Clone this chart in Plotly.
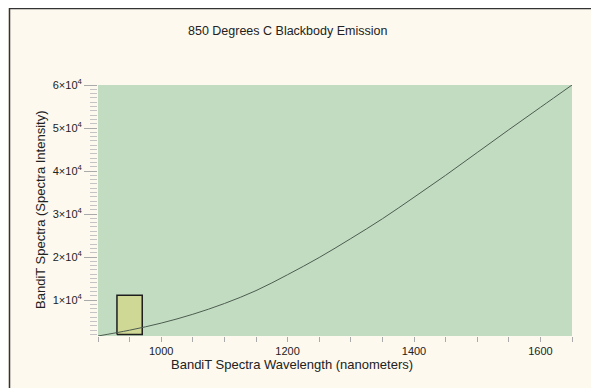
import plotly.graph_objects as go

# Curve values
wavelength_nm = [900, 950, 1000, 1050, 1100, 1150, 1200, 1250, 1300, 1350,
                 1400, 1450, 1500, 1550, 1600, 1650]
intensity = [1650, 3000, 4650, 6700, 9200, 12200, 15900, 19900, 24300, 28900,
             33900, 39000, 44300, 49600, 54800, 60000]

# Highlighted band (rectangle)
band_nm = [930, 970]
band_intensity = [2000, 11150]

x_tick_vals = [1000, 1200, 1400, 1600]
y_tick_vals = [10000, 20000, 30000, 40000, 50000, 60000]
y_tick_text = ["1×10<sup>4</sup>", "2×10<sup>4</sup>", "3×10<sup>4</sup>",
               "4×10<sup>4</sup>", "5×10<sup>4</sup>", "6×10<sup>4</sup>"]

FONT = "Liberation Sans, Arial, sans-serif"

fig = go.Figure()

# band rectangle built from the band arrays
bx = [band_nm[0], band_nm[1], band_nm[1], band_nm[0], band_nm[0]]
by = [band_intensity[0], band_intensity[0], band_intensity[1], band_intensity[1], band_intensity[0]]
fig.add_trace(go.Scatter(x=bx, y=by, mode="lines", fill="toself",
                         fillcolor="#cfd895", line=dict(color="#1e1e1e", width=1.5),
                         hoverinfo="skip", showlegend=False))

fig.add_trace(go.Scatter(x=wavelength_nm, y=intensity, mode="lines",
                         line=dict(color="#4d5c4f", width=1, shape="spline"),
                         showlegend=False))

fig.update_layout(
    width=591, height=380,
    margin=dict(l=90, r=27, t=77, b=52),
    paper_bgcolor="#fdf9ef",
    plot_bgcolor="#c2dcc2",
    font=dict(family=FONT, color="#222222"),
    showlegend=False,
)

fig.update_xaxes(
    range=[900, 1650], showgrid=False, zeroline=False, showline=False,
    tickmode="array", tickvals=x_tick_vals,
    ticks="outside", ticklen=5, tickcolor="#aaaaaa", tickwidth=1,
    tickfont=dict(size=11, family=FONT, color="#222222"),
    minor=dict(dtick=50, tick0=900, ticks="outside", ticklen=5,
               tickcolor="#aaaaaa", tickwidth=1, showgrid=False),
)
fig.update_yaxes(
    range=[1650, 60000], showgrid=False, zeroline=False, showline=False,
    tickmode="array", tickvals=y_tick_vals, ticktext=y_tick_text,
    ticks="outside", ticklen=13, tickcolor="#aaaaaa", tickwidth=1,
    tickfont=dict(size=11, family=FONT, color="#222222"),
    minor=dict(dtick=1000, tick0=0, ticks="outside", ticklen=7,
               tickcolor="#c4c4c4", tickwidth=1, showgrid=False),
)

# Titles as annotations
fig.add_annotation(text="850 Degrees C Blackbody Emission", xref="paper", yref="paper",
                   x=0.4008, y=1.215, xanchor="center", yanchor="middle", showarrow=False,
                   font=dict(size=12.5, family=FONT, color="#222222"))
fig.add_annotation(text="BandiT Spectra Wavelength (nanometers)", xref="paper", yref="paper",
                   x=0.4103, y=-0.1116, xanchor="center", yanchor="middle", showarrow=False,
                   font=dict(size=13, family=FONT, color="#222222"))
fig.add_annotation(text="BandiT Spectra (Spectra Intensity)", xref="paper", yref="paper",
                   x=-0.1203, y=0.502, xanchor="center", yanchor="middle", showarrow=False,
                   textangle=-90, font=dict(size=13, family=FONT, color="#222222"))

# Outer frame
fig.add_shape(type="rect", xref="paper", yref="paper",
              x0=-0.1867, x1=1.3, y0=-0.6, y1=1.3048,
              line=dict(color="#333333", width=1.5), fillcolor="rgba(0,0,0,0)", layer="below")

fig.write_html("out.html")
